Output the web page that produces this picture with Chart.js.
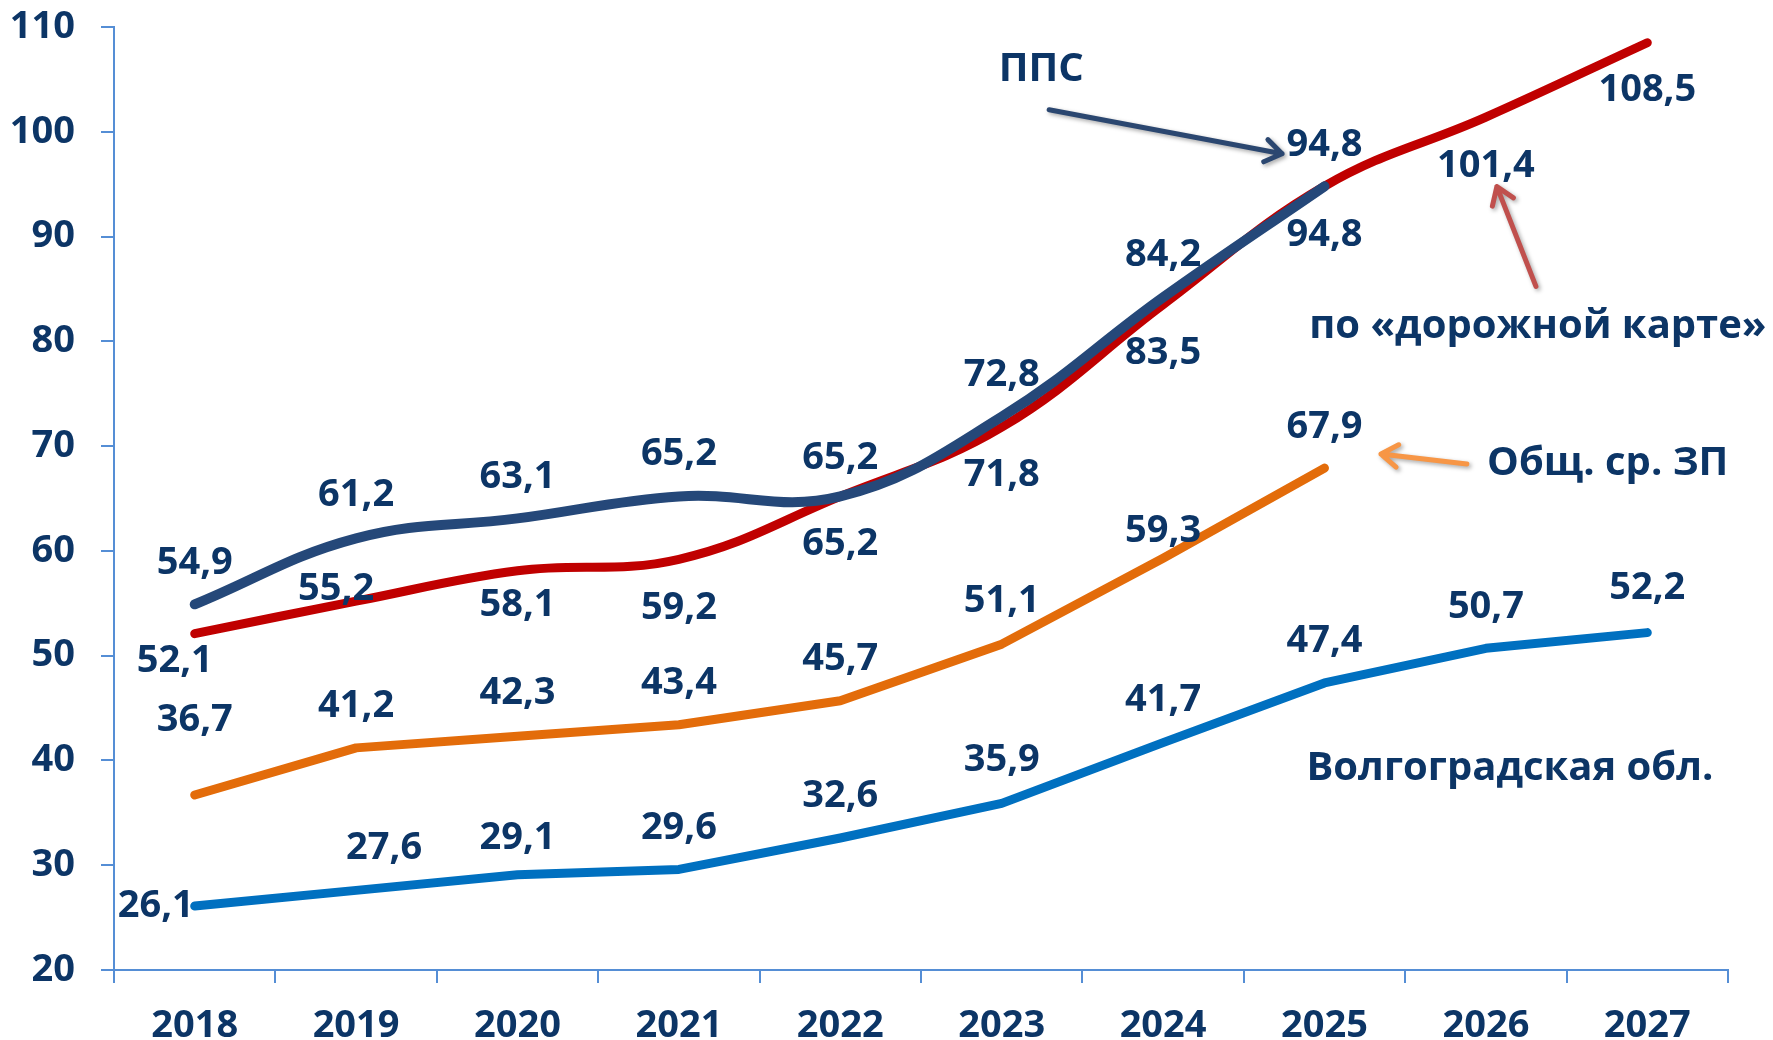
<!DOCTYPE html>
<html lang="ru">
<head>
<meta charset="utf-8">
<title>Средняя заработная плата</title>
<script src="https://cdn.jsdelivr.net/npm/chart.js@4.4.1/dist/chart.umd.min.js"></script>
<style>
  html, body { margin: 0; padding: 0; background: #fff; }
  #wrap { width: 1773px; height: 1040px; }
</style>
</head>
<body>
<div id="wrap"><canvas id="salaryChart" width="1773" height="1040"></canvas></div>
<script>
// years and values, thousand roubles
const years = ['2018', '2019', '2020', '2021', '2022', '2023', '2024', '2025', '2026', '2027'];
const ppsValues = [54.9, 61.2, 63.1, 65.2, 65.2, 72.8, 84.2, 94.8, null, null];
const roadmapValues = [52.1, 55.2, 58.1, 59.2, 65.2, 71.8, 83.5, 94.8, 101.4, 108.5];
const avgWageValues = [36.7, 41.2, 42.3, 43.4, 45.7, 51.1, 59.3, 67.9, null, null];
const regionValues = [26.1, 27.6, 29.1, 29.6, 32.6, 35.9, 41.7, 47.4, 50.7, 52.2];
const yMin = 20, yMax = 110, yStep = 10;

// where each value label sits relative to its point (px)
const ppsShift = [[0,-41],[0,-43],[0,-41],[0,-42],[0,-38],[0,-42],[0,-42],[0,-41],[0,0],[0,0]];
const roadmapShift = [[-20,28],[-20,-12],[0,34],[0,49],[0,48],[0,48],[0,49],[0,49],[0,49],[0,47]];
const avgWageShift = [[0,-75],[0,-42],[0,-43],[0,-42],[0,-42],[0,-43],[0,-27],[0,-41],[0,0],[0,0]];
const regionShift = [[-39,0],[28,-42],[0,-36],[0,-41],[0,-42],[0,-43],[0,-42],[0,-42],[0,-41],[0,-44]];

const textColor = '#0c3566';
const axisColor = '#558ed5';
const fontFamily = '"Open Sans", "Noto Sans", sans-serif';

// captions and arrows, placed in chart units (category index, value)
const captions = [
  { text: 'ППС', at: [5.245, 105.9], size: 40 },
  { text: 'по «дорожной карте»', at: [8.322, 81.43], size: 40 },
  { text: 'Общ. ср. ЗП', at: [8.755, 68.29], size: 40 },
  { text: 'Волгоградская обл.', at: [8.149, 39.24], size: 40 }
];
const pointers = [
  { from: [5.294, 102.10], to: [6.737, 97.90], color: '#2b4770' },
  { from: [8.310, 85.24], to: [8.068, 94.76], color: '#c0504d' },
  { from: [7.882, 68.29], to: [7.350, 69.24], color: '#f79646' }
];

function fmt(v) {
  return v.toFixed(1).replace('.', ',');
}

function drawArrow(ctx, x1, y1, x2, y2, color) {
  const ang = Math.atan2(y2 - y1, x2 - x1);
  const head = 20;
  ctx.save();
  ctx.strokeStyle = color;
  ctx.lineWidth = 5;
  ctx.lineCap = 'round';
  ctx.lineJoin = 'round';
  ctx.shadowColor = 'rgba(0,0,0,0.35)';
  ctx.shadowBlur = 4;
  ctx.shadowOffsetX = 2;
  ctx.shadowOffsetY = 2;
  ctx.beginPath();
  ctx.moveTo(x1, y1);
  ctx.lineTo(x2, y2);
  ctx.moveTo(x2 - head * Math.cos(ang - 0.6), y2 - head * Math.sin(ang - 0.6));
  ctx.lineTo(x2, y2);
  ctx.lineTo(x2 - head * Math.cos(ang + 0.6), y2 - head * Math.sin(ang + 0.6));
  ctx.stroke();
  ctx.restore();
}

const valueLabels = {
  id: 'valueLabels',
  afterDatasetsDraw(chart) {
    const ctx = chart.ctx;
    const xs = chart.scales.x, ys = chart.scales.y;
    ctx.save();
    ctx.fillStyle = textColor;
    ctx.textAlign = 'center';
    ctx.textBaseline = 'middle';
    ctx.font = 'bold 38px ' + fontFamily;
    chart.data.datasets.forEach((ds, di) => {
      const meta = chart.getDatasetMeta(di);
      meta.data.forEach((pt, i) => {
        const v = ds.data[i];
        if (v == null) return;
        const s = ds.labelShift[i];
        ctx.fillText(fmt(v), pt.x + s[0], pt.y + s[1]);
      });
    });

    pointers.forEach(p => {
      drawArrow(ctx,
        xs.getPixelForValue(p.from[0]), ys.getPixelForValue(p.from[1]),
        xs.getPixelForValue(p.to[0]), ys.getPixelForValue(p.to[1]),
        p.color);
    });

    ctx.fillStyle = textColor;
    captions.forEach(c => {
      ctx.font = 'bold ' + c.size + 'px ' + fontFamily;
      ctx.fillText(c.text, xs.getPixelForValue(c.at[0]), ys.getPixelForValue(c.at[1]));
    });
    ctx.restore();
  }
};

const tickFont = { family: fontFamily, weight: 'bold', size: 38 };

new Chart(document.getElementById('salaryChart'), {
  type: 'line',
  data: {
    labels: years,
    datasets: [
      {
        label: 'ППС',
        data: ppsValues,
        borderColor: '#254879',
        borderWidth: 10,
        tension: 0.4,
        labelShift: ppsShift
      },
      {
        label: 'по «дорожной карте»',
        data: roadmapValues,
        borderColor: '#c00000',
        borderWidth: 9,
        tension: 0.4,
        labelShift: roadmapShift
      },
      {
        label: 'Общ. ср. ЗП',
        data: avgWageValues,
        borderColor: '#e36c0a',
        borderWidth: 9,
        tension: 0,
        labelShift: avgWageShift
      },
      {
        label: 'Волгоградская обл.',
        data: regionValues,
        borderColor: '#0070c0',
        borderWidth: 9,
        tension: 0,
        labelShift: regionShift
      }
    ]
  },
  options: {
    responsive: false,
    animation: false,
    spanGaps: false,
    elements: {
      point: { radius: 0, hoverRadius: 0 },
      line: { borderCapStyle: 'round', borderJoinStyle: 'round', fill: false }
    },
    layout: { padding: { top: 27, right: 45, left: 0, bottom: 0 } },
    plugins: {
      legend: { display: false },
      tooltip: { enabled: false }
    },
    scales: {
      x: {
        offset: true,
        grid: { offset: true, drawOnChartArea: false, color: axisColor, lineWidth: 2, tickLength: 13 },
        border: { color: axisColor, width: 2 },
        ticks: { color: textColor, font: tickFont, padding: 20, maxRotation: 0 },
        afterFit(scale) { scale.height = 70; }
      },
      y: {
        min: yMin,
        max: yMax,
        grid: { drawOnChartArea: false, color: axisColor, lineWidth: 2, tickLength: 13 },
        border: { color: axisColor, width: 2 },
        ticks: { stepSize: yStep, color: textColor, font: tickFont, padding: 26 },
        afterFit(scale) {
          scale.width = 114;
          scale.paddingTop = 0;
          scale.paddingBottom = 0;
        }
      }
    }
  },
  plugins: [valueLabels]
});
</script>
</body>
</html>
